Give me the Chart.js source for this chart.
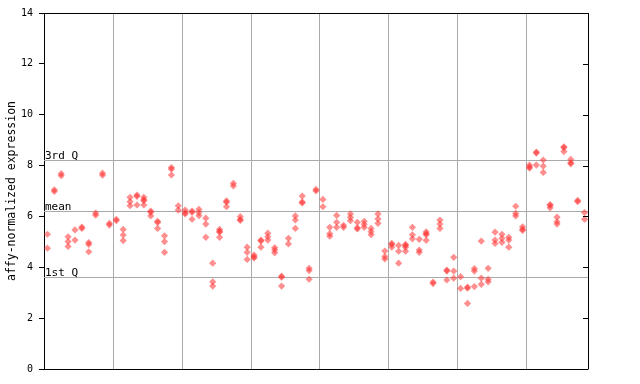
<!DOCTYPE html>
<html>
<head>
<meta charset="utf-8">
<script src="https://cdn.jsdelivr.net/npm/chart.js@4/dist/chart.umd.min.js"></script>
<style>
html,body{margin:0;padding:0;background:#fff;}
#wrap{width:640px;height:384px;position:relative;}
</style>
</head>
<body>
<div id="wrap"><canvas id="c" width="640" height="384"></canvas></div>
<script>
// replicate values per sample column (index = position along x)
const sampleValues = [
  [5.30, 4.75],
  [7.05, 6.98],
  [7.68, 7.60],
  [5.20, 5.01, 4.82],
  [5.47, 5.07],
  [5.58, 5.53],
  [4.97, 4.90, 4.61],
  [6.13, 6.05],
  [7.70, 7.62],
  [5.73, 5.66],
  [5.89, 5.83],
  [5.49, 5.27, 5.05],
  [6.75, 6.58, 6.42],
  [6.84, 6.79, 6.45],
  [6.75, 6.66, 6.62, 6.45],
  [6.21, 6.16, 6.02],
  [5.81, 5.76, 5.53],
  [5.24, 5.01, 4.59],
  [7.92, 7.86, 7.63],
  [6.42, 6.25],
  [6.25, 6.14, 6.10],
  [6.21, 6.16, 5.89],
  [6.28, 6.15, 6.03],
  [5.93, 5.70, 5.18],
  [4.16, 3.43, 3.26],
  [5.49, 5.42, 5.38, 5.18],
  [6.61, 6.56, 6.38],
  [7.30, 7.20],
  [5.99, 5.88, 5.84],
  [4.79, 4.59, 4.31],
  [4.48, 4.41, 4.37],
  [5.07, 5.03, 4.79],
  [5.34, 5.20, 5.07],
  [4.77, 4.68, 4.57],
  [3.65, 3.61, 3.26],
  [5.14, 4.92],
  [6.02, 5.86, 5.53],
  [6.80, 6.57, 6.53],
  [3.96, 3.87, 3.53],
  [7.06, 7.00],
  [6.67, 6.38],
  [5.57, 5.32, 5.22],
  [6.04, 5.77, 5.57],
  [5.65, 5.57],
  [6.10, 5.96, 5.83],
  [5.77, 5.55, 5.51],
  [5.81, 5.69, 5.57],
  [5.53, 5.40, 5.28],
  [6.10, 5.90, 5.73],
  [4.64, 4.42, 4.33],
  [4.94, 4.90, 4.79],
  [4.86, 4.63, 4.16],
  [4.90, 4.86, 4.79, 4.63],
  [5.57, 5.28, 5.12],
  [5.10, 4.68, 4.59],
  [5.39, 5.32, 5.28, 5.06],
  [3.42, 3.36],
  [5.86, 5.70, 5.53],
  [3.89, 3.85, 3.50],
  [4.39, 3.85, 3.57],
  [3.63, 3.17],
  [3.22, 3.18, 2.58],
  [3.95, 3.85, 3.24],
  [5.03, 3.57, 3.33],
  [3.96, 3.53, 3.43],
  [5.38, 5.07, 4.94],
  [5.30, 5.14, 4.98],
  [5.18, 5.07, 4.79],
  [6.40, 6.12, 6.02],
  [5.59, 5.50, 5.45],
  [8.02, 7.94, 7.90],
  [8.53, 8.49, 8.02],
  [8.22, 7.98, 7.73],
  [6.47, 6.43, 6.34],
  [5.97, 5.79, 5.70],
  [8.74, 8.70, 8.55],
  [8.24, 8.11, 8.07],
  [6.63, 6.58],
  [6.15, 5.89]
];
const yTicks = [0, 2, 4, 6, 8, 10, 12, 14];
const groupBoundaries = [9.5, 19.5, 29.5, 39.5, 49.5, 59.5, 69.5];
const refLines = [
  {label: '3rd Q', value: 8.22},
  {label: 'mean', value: 6.20},
  {label: '1st Q', value: 3.60}
];

const points = [];
sampleValues.forEach((vals, i) => vals.forEach(v => points.push({x: i, y: v})));

const MONO = '"DejaVu Sans Mono", "Liberation Mono", monospace';

const framePlugin = {
  id: 'frame',
  beforeDatasetsDraw(chart) {
    const {ctx, chartArea: a, scales: {x, y}} = chart;
    ctx.save();
    ctx.lineWidth = 1;
    ctx.strokeStyle = '#aaaaaa';
    groupBoundaries.forEach(b => {
      const px = Math.round(x.getPixelForValue(b)) + 0.5;
      ctx.beginPath(); ctx.moveTo(px, a.top); ctx.lineTo(px, a.bottom); ctx.stroke();
    });
    refLines.forEach(r => {
      const py = Math.round(y.getPixelForValue(r.value)) + 0.5;
      ctx.beginPath(); ctx.moveTo(a.left, py); ctx.lineTo(a.right, py); ctx.stroke();
    });
    ctx.fillStyle = '#000';
    ctx.font = '11px ' + MONO;
    ctx.textBaseline = 'alphabetic';
    ctx.textAlign = 'left';
    refLines.forEach(r => {
      const py = Math.round(y.getPixelForValue(r.value));
      ctx.fillText(r.label, a.left + 1, py - 1);
    });
    ctx.restore();
  },
  afterDraw(chart) {
    const {ctx, chartArea: a, scales: {y}} = chart;
    ctx.save();
    ctx.strokeStyle = '#000';
    ctx.lineWidth = 1;
    ctx.beginPath();
    ctx.moveTo(a.left, a.top + 0.5); ctx.lineTo(a.right + 0.5, a.top + 0.5);
    ctx.moveTo(a.right + 0.5, a.top); ctx.lineTo(a.right + 0.5, a.bottom);
    ctx.moveTo(a.left, a.bottom + 0.5); ctx.lineTo(a.right + 0.5, a.bottom + 0.5);
    yTicks.forEach(t => {
      if (t === 0 || t === 14) return;
      const py = Math.round(y.getPixelForValue(t)) + 0.5;
      ctx.moveTo(a.right - 5, py); ctx.lineTo(a.right, py);
    });
    ctx.stroke();
    ctx.restore();
  }
};

new Chart(document.getElementById('c'), {
  type: 'scatter',
  data: {
    datasets: [{
      data: points,
      pointStyle: 'rectRot',
      pointRadius: 3.6,
      pointHoverRadius: 3.6,
      backgroundColor: 'rgba(255,50,50,0.55)',
      borderWidth: 0
    }]
  },
  options: {
    responsive: false,
    animation: false,
    events: [],
    layout: {padding: {top: 13, right: 52, bottom: 15, left: 0}},
    plugins: {legend: {display: false}, tooltip: {enabled: false}},
    scales: {
      x: {
        type: 'linear', min: -0.5, max: 78.5, display: false
      },
      y: {
        type: 'linear', min: 0, max: 14,
        afterFit(s) { s.width = 44; },
        afterBuildTicks(s) { s.ticks = yTicks.map(v => ({value: v})); },
        border: {display: true, color: '#000', width: 1},
        grid: {drawOnChartArea: false, drawTicks: true, tickLength: 5, color: '#000'},
        ticks: {color: '#000', font: {family: MONO, size: 10}, padding: 6},
        title: {display: true, text: 'affy-normalized expression', color: '#000',
                font: {family: MONO, size: 11.5}, padding: {top: 5, bottom: 0}}
      }
    }
  },
  plugins: [framePlugin]
});
</script>
</body>
</html>
